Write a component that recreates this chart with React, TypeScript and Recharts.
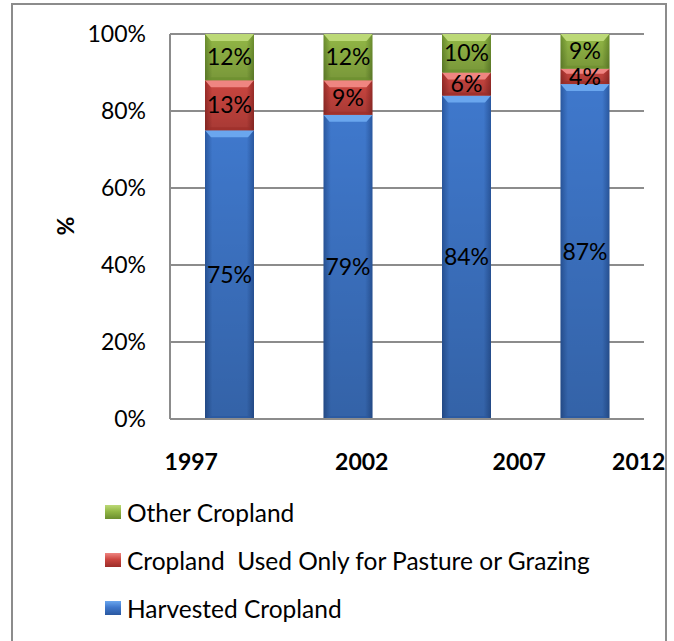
import { BarChart, Bar, XAxis, YAxis, CartesianGrid, LabelList, Legend } from "recharts";

document.body.style.margin = "0";

const years = ["1997", "2002", "2007", "2012"];
const harvested = [75, 79, 84, 87];
const pasture = [13, 9, 6, 4];
const other = [12, 12, 10, 9];
const yTicks = [0, 20, 40, 60, 80, 100];

const data = years.map((year, i) => ({
  year,
  harvested: harvested[i],
  pasture: pasture[i],
  other: other[i],
}));

const FONT = "Lato, 'Noto Sans', sans-serif";
const GRID = "#8c8c8c";

// Excel placed the category labels off the bar centres
const tickNudge = [-38, 14, 53, 54];

const palette = {
  harvested: { mid: "#3f78cc", edge: "#2a58a0", top: "#6aa6ee" },
  pasture: { mid: "#cc4640", edge: "#9c2d29", top: "#ef8581" },
  other: { mid: "#93b846", edge: "#6b8e2e", top: "#bcd977" },
};

type Key = keyof typeof palette;

const seriesList: { key: Key; name: string }[] = [
  { key: "harvested", name: "Harvested Cropland" },
  { key: "pasture", name: "Cropland  Used Only for Pasture or Grazing" },
  { key: "other", name: "Other Cropland" },
];

function bevelShape(key: Key) {
  return (p: any) => {
    const { x, y, width, height } = p;
    if (!height || height <= 0) return null;
    const b = Math.min(7, height / 3);
    const c = palette[key];
    return (
      <g>
        <rect x={x} y={y} width={width} height={height} fill={`url(#grad-${key})`} />
        <rect x={x} y={y} width={width} height={height} fill="url(#shade)" />
        <polygon
          points={`${x},${y} ${x + width},${y} ${x + width - 6},${y + b} ${x + 6},${y + b}`}
          fill={c.top}
        />
        <polygon
          points={`${x + 6},${y + height - 3} ${x + width - 6},${y + height - 3} ${x + width},${y + height} ${x},${y + height}`}
          fill={c.edge}
          opacity={0.7}
        />
      </g>
    );
  };
}

function XTick({ x, y, payload, index }: any) {
  return (
    <text
      x={x + (tickNudge[index] ?? 0)}
      y={y + 49}
      textAnchor="middle"
      fontFamily={FONT}
      fontWeight={700}
      fontSize={23}
      fill="#000"
    >
      {payload.value}
    </text>
  );
}

function LegendBox() {
  const rows = [...seriesList].reverse();
  return (
    <div style={{ fontFamily: FONT, fontSize: 24.5, color: "#000" }}>
      {rows.map((s) => (
        <div key={s.key} style={{ display: "flex", alignItems: "center", height: 48 }}>
          <span
            style={{
              width: 16,
              height: 14,
              marginRight: 6,
              background: `linear-gradient(to bottom, ${palette[s.key].top}, ${palette[s.key].mid} 45%, ${palette[s.key].edge})`,
            }}
          />
          <span style={{ whiteSpace: "pre" }}>{s.name}</span>
        </div>
      ))}
    </div>
  );
}

export default function App() {
  return (
    <div style={{ position: "relative", width: 674, height: 641, overflow: "hidden", background: "#fff" }}>
      <div
        style={{
          position: "absolute",
          left: 11,
          top: 3,
          width: 656,
          height: 660,
          border: `2px solid ${GRID}`,
          boxSizing: "border-box",
        }}
      />
      <BarChart
        width={674}
        height={641}
        data={data}
        margin={{ top: 34, right: 30, left: 0, bottom: 162 }}
        barSize={49}
        style={{ position: "absolute", left: 0, top: 0 }}
      >
        <defs>
          {(Object.keys(palette) as Key[]).map((k) => (
            <linearGradient key={k} id={`grad-${k}`} x1="0" y1="0" x2="1" y2="0">
              <stop offset="0%" stopColor={palette[k].edge} />
              <stop offset="15%" stopColor={palette[k].mid} />
              <stop offset="85%" stopColor={palette[k].mid} />
              <stop offset="100%" stopColor={palette[k].edge} />
            </linearGradient>
          ))}
          <linearGradient id="shade" x1="0" y1="0" x2="0" y2="1">
            <stop offset="0%" stopColor="#000" stopOpacity={0} />
            <stop offset="100%" stopColor="#000" stopOpacity={0.18} />
          </linearGradient>
        </defs>
        <CartesianGrid vertical={false} stroke={GRID} strokeWidth={2} />
        <XAxis
          dataKey="year"
          height={60}
          axisLine={{ stroke: GRID, strokeWidth: 2 }}
          tickLine={false}
          tickSize={0}
          tick={<XTick />}
          interval={0}
        />
        <YAxis
          width={170}
          domain={[0, 100]}
          ticks={yTicks}
          tickFormatter={(v: number) => `${v}%`}
          axisLine={{ stroke: GRID, strokeWidth: 2 }}
          tickLine={false}
          tickSize={0}
          tickMargin={24}
          tick={{ fontFamily: FONT, fontSize: 23, fill: "#000" }}
          label={{
            content: () => (
              <text
                x={65}
                y={226}
                transform="rotate(-90 65 226)"
                textAnchor="middle"
                dominantBaseline="central"
                fontFamily={FONT}
                fontWeight={700}
                fontSize={23}
              >
                %
              </text>
            ),
          }}
        />
        <Legend
          layout="vertical"
          align="center"
          verticalAlign="middle"
          content={<LegendBox />}
          wrapperStyle={{ top: 488, left: 105, width: 560 }}
        />
        {seriesList.map((s) => (
          <Bar
            key={s.key}
            dataKey={s.key}
            name={s.name}
            stackId="a"
            fill={palette[s.key].mid}
            shape={bevelShape(s.key)}
            isAnimationActive={false}
          >
            <LabelList
              dataKey={s.key}
              position="center"
              formatter={(v: any) => `${v}%`}
              fill="#000"
              fontFamily={FONT}
              fontSize={23}
            />
          </Bar>
        ))}
      </BarChart>
    </div>
  );
}
